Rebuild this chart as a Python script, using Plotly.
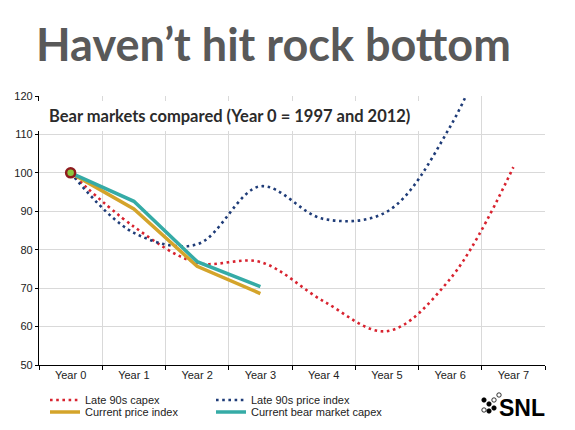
import plotly.graph_objects as go

# data
years = ["Year 0", "Year 1", "Year 2", "Year 3", "Year 4", "Year 5", "Year 6", "Year 7"]
late90s_capex = [100, 86.0, 76.6, 76.8, 66.6, 58.8, 72.4, 101.5]
late90s_price = [100, 84.4, 81.4, 96.5, 88.0, 89.9, 112.0, 150.0]
current_price = [100, 90.6, 75.7, 68.6]
current_capex = [100, 92.6, 76.9, 70.4]
start_year = ["Year 0"]
start_value = [100]

RED = "#d8232f"
NAVY = "#1f3c78"
GOLD = "#d4a42b"
TEAL = "#35aba6"

# the page body adds 8px, so the figure is drawn 8px smaller
W, H = 567, 422
L, R, T, B = 31, 30, 88, 65
PW, PH = W - L - R, H - T - B


def px(x):  # page pixel -> paper x
    return (x - 8 - L) / PW


def py(y):  # page pixel -> paper y
    return (H - B - (y - 8)) / PH


fig = go.Figure()
fig.add_trace(go.Scatter(x=years, y=late90s_capex, name="Late 90s capex", mode="lines",
                         line=dict(color=RED, width=2.6, dash="2.6px,3.6px", shape="spline", smoothing=1),
                         legend="legend"))
fig.add_trace(go.Scatter(x=years, y=late90s_price, name="Late 90s price index", mode="lines",
                         line=dict(color=NAVY, width=2.6, dash="2.6px,3.6px", shape="spline", smoothing=1),
                         legend="legend2"))
fig.add_trace(go.Scatter(x=years[:len(current_price)], y=current_price, name="Current price index",
                         mode="lines", line=dict(color=GOLD, width=3.5), legend="legend3"))
fig.add_trace(go.Scatter(x=years[:len(current_capex)], y=current_capex, name="Current bear market capex",
                         mode="lines", line=dict(color=TEAL, width=3.5), legend="legend4"))
fig.add_trace(go.Scatter(x=start_year, y=start_value, mode="markers", showlegend=False,
                         marker=dict(size=9, color="#8cc63f", line=dict(color="#8e1b1e", width=2.5))))

leg = dict(font=dict(family="Liberation Sans, Arial", size=11, color="#222"),
           bgcolor="rgba(0,0,0,0)", xanchor="left", yanchor="middle",
           xref="container", yref="container", itemwidth=30, tracegroupgap=0)
col1, col2 = 37 / W, 203 / W
row1, row2 = (H - 392) / H, (H - 404) / H

fig.update_layout(
    width=W, height=H,
    margin=dict(l=L, r=R, t=T, b=B, autoexpand=False),
    paper_bgcolor="white", plot_bgcolor="white",
    font=dict(family="Liberation Sans, Arial", size=11, color="#222"),
    xaxis=dict(type="category", tickson="boundaries", showgrid=True, gridcolor="#d9d9d9",
               showline=True, linecolor="black", linewidth=1.2, ticks="outside", ticklen=4,
               tickcolor="black", range=[-0.5, 7.5], tickangle=0, automargin=False),
    yaxis=dict(range=[50, 120], dtick=10, showgrid=True, gridcolor="#d9d9d9",
               showline=True, linecolor="black", linewidth=1.2, ticks="outside", ticklen=3,
               tickcolor="black", zeroline=False, automargin=False),
    legend=dict(leg, x=col1, y=row1),
    legend2=dict(leg, x=col2, y=row1),
    legend3=dict(leg, x=col1, y=row2),
    legend4=dict(leg, x=col2, y=row2),
    annotations=[
        dict(text="<b>Haven\u2019t hit rock bottom</b>", xref="paper", yref="paper",
             x=px(273.5), y=1.0, yshift=52, xanchor="center", yanchor="middle", showarrow=False,
             font=dict(family="Lato", size=45, color="#595959")),
        dict(text="<b>Bear markets compared (Year 0 = 1997 and 2012)</b>", xref="paper", yref="paper",
             x=px(48), y=py(116), xanchor="left", yanchor="middle", showarrow=False, borderpad=0,
             font=dict(family="Lato", size=16.5, color="#2b2b2b")),
        dict(text="<b>SNL</b>", xref="paper", yref="paper", x=px(547), y=py(408),
             xanchor="right", yanchor="middle", showarrow=False,
             font=dict(family="Liberation Sans, Arial", size=23, color="black")),
    ],
)

# white box behind the chart subtitle
fig.add_shape(type="rect", xref="paper", yref="paper", layer="above",
              x0=px(36), x1=px(420), y0=py(131), y1=py(101),
              fillcolor="white", line=dict(width=0))

# SNL logo dots
dots = [(484, 400, True), (489, 404, True), (494, 408, True), (489, 411, True),
        (494, 400, False), (499, 395, False), (484, 410, False)]
for cx, cy, filled in dots:
    fig.add_shape(type="circle", xref="paper", yref="paper",
                  x0=px(cx - 2.2), x1=px(cx + 2.2), y0=py(cy + 2.2), y1=py(cy - 2.2),
                  fillcolor="black" if filled else "white",
                  line=dict(color="black", width=0.8))

fig.write_html("out.html")
